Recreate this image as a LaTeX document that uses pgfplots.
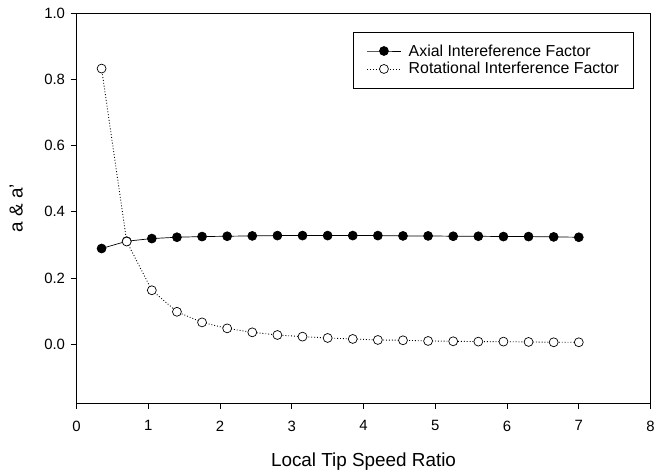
\documentclass[border=0pt]{standalone}
\usepackage{fontspec}
\setmainfont{Liberation Sans}
\usepackage{pgfplots}
\pgfplotsset{compat=1.18}

\begin{document}
\begin{tikzpicture}
\begin{axis}[
  scale only axis,
  width=578pt, height=393pt,
  xmin=0, xmax=8, ymin=-0.178, ymax=1.0,
  xtick={0,1,...,8},
  ytick={0,0.2,0.4,0.6,0.8,1.0},
  yticklabel style={/pgf/number format/fixed, /pgf/number format/fixed zerofill,
    /pgf/number format/precision=1, xshift=-2pt},
  /pgf/number format/assume math mode=true,
  tick align=outside, tick pos=left,
  major tick length=6pt,
  tick style={black, line width=0.8pt},
  axis line style={line width=0.8pt},
  tick label style={font=\fontsize{15}{18}\selectfont},
  xticklabel style={yshift=-8pt},
  xlabel={Local Tip Speed Ratio},
  ylabel={a \& a'},
  label style={font=\fontsize{19}{22}\selectfont},
  xlabel style={yshift=-15pt},
  ylabel style={at={(axis description cs:-0.105,0.5)}, anchor=center},
  legend style={at={(1,1)}, anchor=north east, xshift=-17pt, yshift=-19pt,
    draw=black, line width=0.6pt, font=\fontsize{16}{19}\selectfont,
    inner xsep=13pt, inner ysep=11pt, row sep=2pt, column sep=6pt,
    nodes={inner sep=1.5pt}},
  legend cell align=left,
  legend image code/.code={
    \draw[mark repeat=2, mark phase=2, #1] plot coordinates {(0pt,0pt) (17pt,0pt) (34pt,0pt)};
  },
]
\addplot[black, line width=0.7pt, mark=*, mark size=4.5pt,
  mark options={solid, fill=black}] coordinates {
  (0.35,0.289) (0.70,0.311) (1.05,0.319) (1.40,0.323) (1.75,0.325)
  (2.10,0.326) (2.45,0.327) (2.80,0.328) (3.15,0.328) (3.50,0.328)
  (3.85,0.328) (4.20,0.328) (4.55,0.327) (4.90,0.327) (5.25,0.326)
  (5.60,0.326) (5.95,0.325) (6.30,0.325) (6.65,0.324) (7.00,0.323)
};
\addlegendentry{Axial Intereference Factor}

\addplot[black, line width=0.9pt, dotted, mark=*, mark size=4.5pt,
  mark options={solid, fill=white, draw=black, line width=0.7pt}] coordinates {
  (0.35,0.832) (0.70,0.310) (1.05,0.163) (1.40,0.098) (1.75,0.066)
  (2.10,0.048) (2.45,0.036) (2.80,0.028) (3.15,0.023) (3.50,0.019)
  (3.85,0.016) (4.20,0.013) (4.55,0.012) (4.90,0.010) (5.25,0.009)
  (5.60,0.008) (5.95,0.008) (6.30,0.007) (6.65,0.006) (7.00,0.006)
};
\addlegendentry{Rotational Interference Factor}
\end{axis}
\path[use as bounding box] (-77pt,-68pt) rectangle (581pt,406pt);
\end{tikzpicture}
\end{document}
